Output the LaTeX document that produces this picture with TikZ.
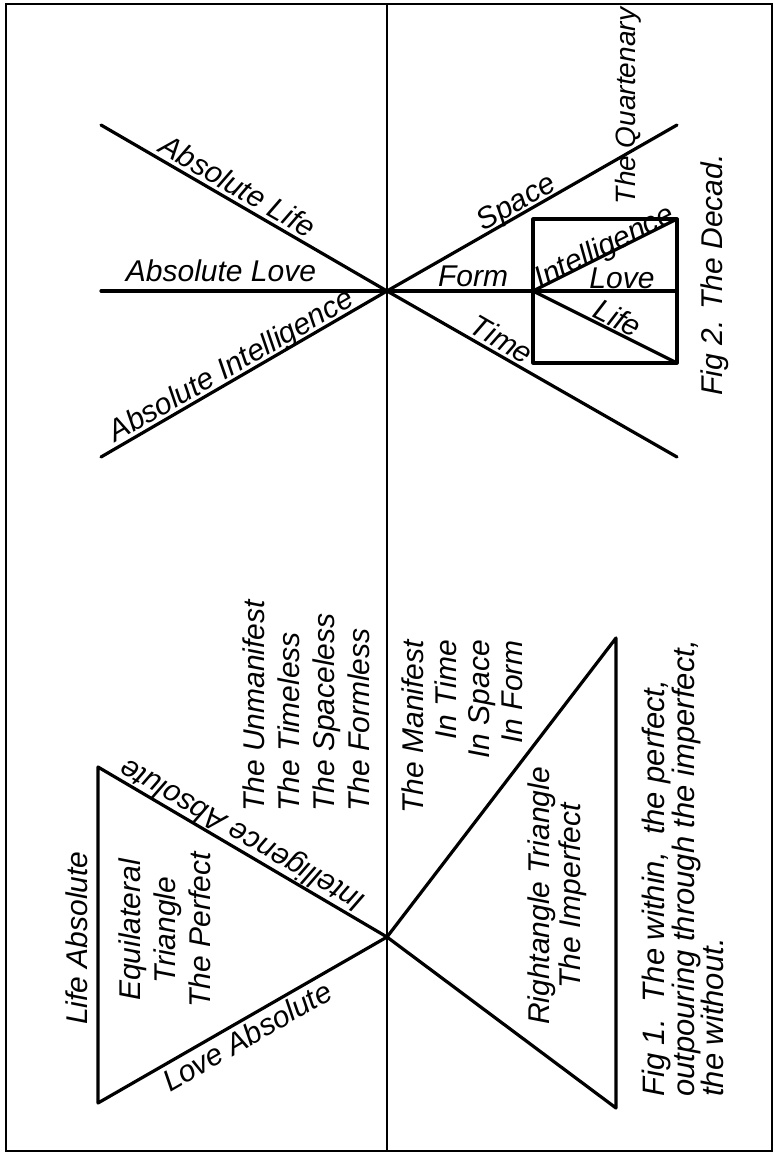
\documentclass[tikz,border=0pt]{standalone}
\usepackage{fontspec}
\setmainfont{Liberation Sans}
\begin{document}
\begin{tikzpicture}[x=1pt,y=-1pt,
  heavy/.style={line width=3.2pt, line cap=round, line join=round},
  frame/.style={line width=2.2pt},
  lbl/.style={font=\itshape\fontsize{30}{33}\selectfont, inner sep=0pt},
  blk/.style={font=\itshape\fontsize{30}{35}\selectfont, inner sep=0pt, rotate=90},
]
\useasboundingbox (0,0) rectangle (774,1154);
% frame and middle line
\coordinate (TL) at (6,4);
\coordinate (BRc) at (772,1151);
\draw[frame] (TL) rectangle (BRc);
\coordinate (mtop) at (387,4);
\coordinate (mbot) at (387,1151);
\draw[frame] (mtop) -- (mbot);

% ---------- Fig 2 ----------
\coordinate (C) at (387,291);
\coordinate (AL) at (101,125);
\coordinate (AV) at (101,291);
\coordinate (AI) at (101,457);
\coordinate (SP) at (677,125);
\coordinate (TI) at (677,457);
\coordinate (BL) at (533,291);
\coordinate (BR) at (677,291);
\coordinate (Btl) at (533,219);
\coordinate (Btr) at (677,219);
\coordinate (Bbl) at (533,363);
\coordinate (Bbr) at (677,363);
\draw[heavy] (AL) -- (C) -- (SP);
\draw[heavy] (AI) -- (C) -- (TI);
\draw[heavy] (AV) -- (BR);
\draw[heavy] (Btl) rectangle (Bbr);
\draw[heavy] (Btr) -- (BL) -- (Bbr);

\node[lbl, rotate=-30] (lAL) at (238,186) {Absolute Life};
\node[lbl] (lAV) at (221,271) {Absolute Love};
\node[lbl, rotate=30] (lAI) at (232,367) {Absolute Intelligence};
\node[lbl, rotate=30] (lSP) at (517,204) {Space};
\node[lbl] (lFO) at (473,276) {Form};
\node[lbl, rotate=-30] (lTI) at (502,339) {Time};
\node[lbl, rotate=26.6] (lIN) at (605,248) {Intelligence};
\node[lbl] (lLO) at (622,278) {Love};
\node[lbl, rotate=-26.6] (lLI) at (618,318) {Life};
\node[lbl, rotate=90, font=\itshape\fontsize{28}{30}\selectfont] (lQ) at (628,106) {The Quartenary};
\node[lbl, rotate=90] (lF2) at (715,275) {Fig 2. The Decad.};

% ---------- Fig 1 ----------
\coordinate (A) at (387,937);
\coordinate (E1) at (98,767);
\coordinate (E2) at (98,1103);
\coordinate (R1) at (616,638);
\coordinate (R2) at (616,1108);
\draw[heavy] (A) -- (E1) -- (E2) -- cycle;
\draw[heavy] (A) -- (R1) -- (R2) -- cycle;

\node[lbl, rotate=90] (lLA) at (77,938) {Life Absolute};
\node[blk, align=center] (lEQ) at (165,930) {Equilateral\\Triangle\\The Perfect};
\node[lbl, rotate=150] (lIA) at (243,834) {Intelligence Absolute};
\node[lbl, rotate=30] (lLV) at (247,1036) {Love Absolute};
\node[blk, anchor=west, align=left] (lUN) at (306,812) {The Unmanifest\\The Timeless\\The Spaceless\\The Formless};
\node[blk, anchor=east, align=right, font=\itshape\fontsize{30}{33}\selectfont] (lMA) at (462,640) {The Manifest\\In Time\\In Space\\In Form};
\node[blk, align=center, font=\itshape\fontsize{30}{31}\selectfont] (lRT) at (557,896) {Rightangle Triangle\\The Imperfect};
\node[blk, anchor=west, align=left, font=\itshape\fontsize{31}{27}\selectfont] (lF1) at (683,1097) {Fig 1.\ \ The within,\ \ the perfect,\\outpouring through the imperfect,\\the without.};
\end{tikzpicture}
\end{document}
